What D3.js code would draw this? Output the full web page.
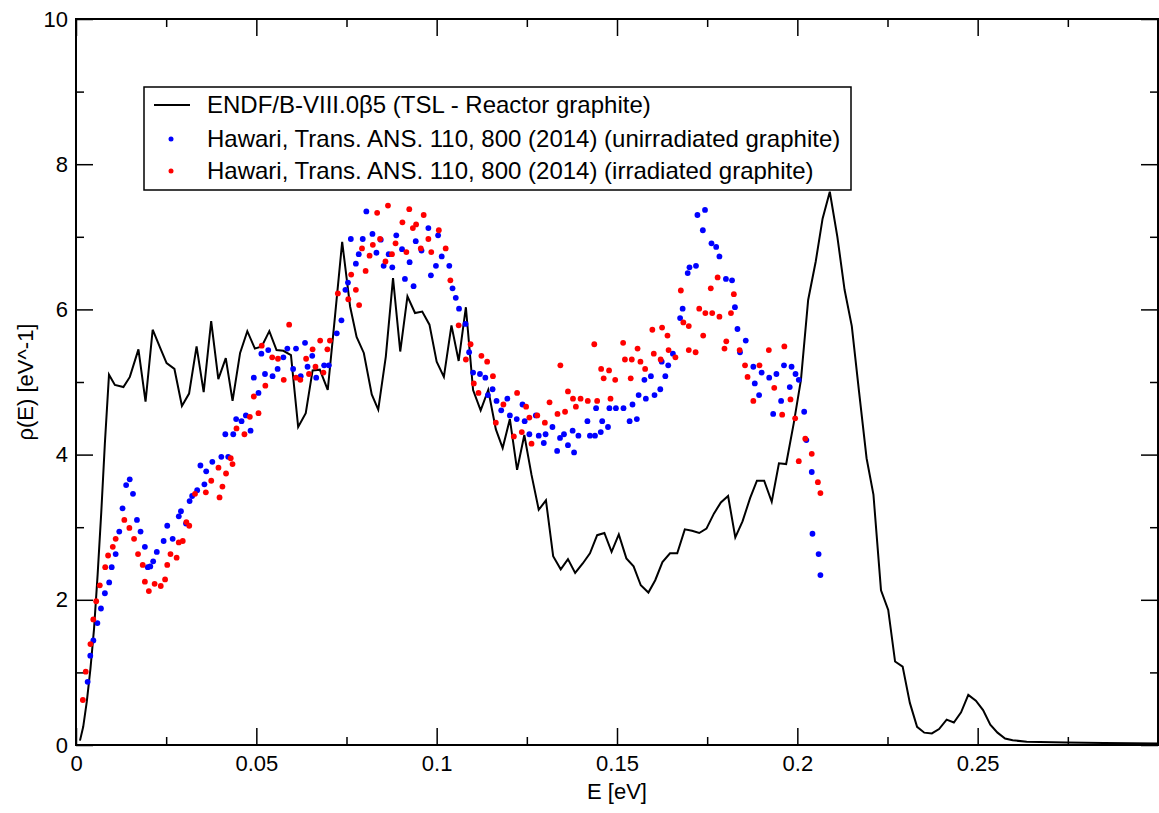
<!DOCTYPE html>
<html>
<head>
<meta charset="utf-8">
<script src="https://cdn.jsdelivr.net/npm/d3@7"></script>
<style>
  html, body { margin: 0; padding: 0; background: #fff; }
  text { font-family: "Liberation Sans", Arial, Helvetica, sans-serif; }
</style>
</head>
<body>
<svg id="chart"></svg>
<script>
// ─── Data: ENDF/B-VIII.0 TSL reactor graphite ────────────────
const lineE = [
  0.0011, 0.002, 0.003, 0.004, 0.005, 0.006, 0.007, 0.008, 0.00915, 0.01078,
  0.01315, 0.01493, 0.01731, 0.01928, 0.02126, 0.02334, 0.02512, 0.02729, 0.02937, 0.03135,
  0.03343, 0.0354, 0.03748, 0.03946, 0.04153, 0.04341, 0.0455, 0.0475, 0.0496, 0.0515,
  0.0536, 0.0556, 0.0575, 0.0596, 0.0616, 0.0637, 0.0656, 0.0676, 0.0698, 0.0718,
  0.0738, 0.0760, 0.0778, 0.0798, 0.0820, 0.0838, 0.0859, 0.0879, 0.0899, 0.0919,
  0.0940, 0.0960, 0.0980, 0.1000, 0.1020, 0.1041, 0.1061, 0.1081, 0.1101, 0.1122,
  0.1143, 0.1164, 0.1183, 0.1203, 0.1223, 0.1243, 0.1263, 0.1283, 0.1303, 0.1323,
  0.1344, 0.1364, 0.1384, 0.1405, 0.1425, 0.1445, 0.1465, 0.1485, 0.1505, 0.1526,
  0.1546, 0.1566, 0.1587, 0.1606, 0.1626, 0.1647, 0.1667, 0.1688, 0.1708, 0.1728,
  0.1748, 0.1769, 0.1788, 0.1808, 0.1828, 0.1848, 0.1869, 0.1888, 0.1908, 0.1929,
  0.1949, 0.1969, 0.1990, 0.2010, 0.2030, 0.2051, 0.2070, 0.2090, 0.2111, 0.2131,
  0.2151, 0.2171, 0.2192, 0.2211, 0.2232, 0.2252, 0.2271, 0.2292, 0.2312, 0.2332,
  0.2352, 0.2373, 0.2393, 0.2414, 0.2434, 0.2454, 0.2474, 0.2495, 0.2515, 0.2535,
  0.2555, 0.2576, 0.2597, 0.2636, 0.2746, 0.2850, 0.3000
];
const lineRho = [
  0.06, 0.25, 0.6, 1.05, 1.6, 2.35, 3.2, 4.15, 5.10, 4.96,
  4.93, 5.07, 5.45, 4.73, 5.72, 5.47, 5.26, 5.18, 4.67, 4.84,
  5.49, 4.86, 5.84, 5.04, 5.33, 4.74, 5.40, 5.70, 5.46, 5.49,
  5.70, 5.44, 5.43, 5.37, 4.38, 4.57, 5.16, 5.17, 4.89, 5.90,
  6.93, 6.04, 5.62, 5.40, 4.83, 4.62, 5.35, 6.43, 5.42, 6.18,
  5.95, 5.97, 5.79, 5.28, 5.07, 5.78, 5.29, 6.03, 4.89, 4.61,
  4.89, 4.35, 4.09, 4.49, 3.79, 4.27, 3.72, 3.24, 3.37, 2.60,
  2.42, 2.56, 2.37, 2.50, 2.64, 2.89, 2.92, 2.66, 2.90, 2.57,
  2.46, 2.20, 2.10, 2.27, 2.52, 2.64, 2.64, 2.97, 2.95, 2.92,
  2.98, 3.19, 3.34, 3.43, 2.86, 3.08, 3.40, 3.64, 3.64, 3.35,
  3.88, 3.87, 4.43, 5.03, 6.13, 6.66, 7.25, 7.62, 7.00, 6.27,
  5.77, 4.87, 3.95, 3.45, 2.13, 1.86, 1.15, 1.08, 0.58, 0.25,
  0.17, 0.16, 0.22, 0.35, 0.31, 0.45, 0.69, 0.61, 0.48, 0.28,
  0.17, 0.09, 0.065, 0.045, 0.035, 0.028, 0.02
];

// ─── Data: Hawari 2014, unirradiated graphite ────────────────
const unirrE = [
  0.00323, 0.00396, 0.00481, 0.00593, 0.00692, 0.00801, 0.0092, 0.0099, 0.0110, 0.0120,
  0.0129, 0.0139, 0.0149, 0.0158, 0.0169, 0.0179, 0.0191, 0.0199, 0.0206, 0.0214,
  0.0224, 0.0243, 0.0253, 0.0268, 0.0285, 0.0291, 0.0305, 0.0315, 0.0322, 0.0336,
  0.0345, 0.0356, 0.0361, 0.0378, 0.0403, 0.0414, 0.0422, 0.0436, 0.0444, 0.0459,
  0.0471, 0.0484, 0.0493, 0.0506, 0.0514, 0.0524, 0.0533, 0.0545, 0.0559, 0.0575,
  0.0586, 0.0602, 0.0610, 0.0623, 0.0635, 0.0642, 0.0655, 0.0666, 0.0688, 0.0701,
  0.0723, 0.0736, 0.0747, 0.0754, 0.0762, 0.0776, 0.0784, 0.0795, 0.0805, 0.0822,
  0.0833, 0.0845, 0.0853, 0.0867, 0.0877, 0.0888, 0.0904, 0.0912, 0.0925, 0.0936,
  0.0942, 0.0958, 0.0977, 0.0984, 0.0998, 0.1004, 0.1014, 0.1035, 0.1044, 0.1053,
  0.1062, 0.1080, 0.1090, 0.1101, 0.1120, 0.1135, 0.1142, 0.1155, 0.1166, 0.1179,
  0.1196, 0.1203, 0.1222, 0.1238, 0.1244, 0.1257, 0.1275, 0.1283, 0.1297, 0.1302,
  0.1321, 0.1334, 0.1342, 0.1353, 0.1364, 0.1377, 0.1381, 0.1393, 0.1418, 0.1425,
  0.1439, 0.1442, 0.1455, 0.1459, 0.1475, 0.1479, 0.1497, 0.1518, 0.1535, 0.1543,
  0.1555, 0.1560, 0.1576, 0.1580, 0.1594, 0.1604, 0.1620, 0.1624, 0.1634, 0.1642,
  0.1655, 0.1675, 0.1682, 0.1696, 0.1701, 0.1719, 0.1723, 0.1738, 0.1744, 0.1762,
  0.1775, 0.1784, 0.1802, 0.1819, 0.1827, 0.1834, 0.1841, 0.1857, 0.1878, 0.1882,
  0.1894, 0.1901, 0.1922, 0.1933, 0.1942, 0.1955, 0.1963, 0.1979, 0.1984, 0.1995,
  0.2004, 0.2019, 0.2025, 0.2040, 0.2042, 0.2059, 0.2064
];
const unirrRho = [
  0.87, 1.23, 1.44, 1.68, 1.88, 2.09, 2.24, 2.45, 2.63, 2.94,
  3.26, 3.58, 3.66, 3.46, 3.10, 2.94, 2.73, 2.45, 2.46, 2.53,
  2.66, 2.81, 3.02, 2.84, 3.15, 3.22, 3.05, 3.36, 3.43, 3.51,
  3.85, 3.59, 3.77, 3.90, 3.97, 4.28, 3.97, 4.28, 4.49, 4.46,
  4.54, 4.33, 5.06, 4.85, 5.39, 5.11, 5.44, 5.08, 5.18, 5.34,
  5.46, 5.18, 5.46, 5.08, 5.54, 5.21, 5.36, 5.06, 5.23, 5.23,
  5.67, 5.85, 6.27, 6.37, 6.97, 6.63, 6.76, 6.97, 7.35, 7.04,
  6.78, 6.96, 6.60, 6.76, 6.58, 7.02, 6.83, 6.42, 6.65, 6.32,
  6.94, 6.81, 7.12, 6.47, 6.60, 7.02, 6.73, 6.60, 6.29, 6.16,
  6.01, 5.80, 5.41, 5.13, 5.11, 5.06, 4.82, 4.90, 4.74, 4.61,
  4.77, 4.54, 4.49, 4.69, 4.46, 4.28, 4.54, 4.26, 4.16, 4.28,
  4.38, 4.05, 4.23, 4.28, 4.13, 4.33, 4.03, 4.26, 4.46, 4.26,
  4.26, 4.64, 4.31, 4.46, 4.38, 4.64, 4.64, 4.64, 4.46, 4.69,
  4.49, 4.82, 5.03, 4.77, 5.08, 4.82, 4.90, 5.28, 5.08, 5.23,
  5.39, 5.88, 6.01, 6.50, 6.58, 6.60, 7.30, 7.09, 7.37, 6.91,
  6.86, 6.73, 6.42, 6.40, 6.03, 5.73, 5.41, 5.57, 5.21, 4.98,
  4.82, 5.13, 5.06, 4.56, 5.11, 4.74, 5.23, 4.93, 5.21, 5.11,
  5.03, 4.59, 4.20, 3.76, 2.91, 2.63, 2.34
];

// ─── Data: Hawari 2014, irradiated graphite ──────────────────
const irrE = [
  0.0019, 0.0027, 0.0040, 0.0048, 0.0056, 0.0066, 0.0081, 0.0089, 0.0102, 0.0110,
  0.0134, 0.0148, 0.0161, 0.0172, 0.0185, 0.0191, 0.0202, 0.0218, 0.0235, 0.0247,
  0.0253, 0.0262, 0.0279, 0.0285, 0.0296, 0.0306, 0.0314, 0.0330, 0.0360, 0.0375,
  0.0395, 0.0398, 0.0406, 0.0416, 0.0429, 0.0434, 0.0445, 0.0467, 0.0482, 0.0493,
  0.0506, 0.0515, 0.0525, 0.0544, 0.0560, 0.0576, 0.0591, 0.0610, 0.0622, 0.0638,
  0.0646, 0.0656, 0.0664, 0.0677, 0.0686, 0.0697, 0.0704, 0.0726, 0.0755, 0.0763,
  0.0776, 0.0785, 0.0793, 0.0803, 0.0814, 0.0823, 0.0835, 0.0843, 0.0858, 0.0865,
  0.0876, 0.0886, 0.0905, 0.0916, 0.0924, 0.0934, 0.0943, 0.0956, 0.0964, 0.0977,
  0.0985, 0.1006, 0.1025, 0.1038, 0.1061, 0.1081, 0.1094, 0.1103, 0.1116, 0.1124,
  0.1140, 0.1156, 0.1164, 0.1185, 0.1214, 0.1223, 0.1236, 0.1248, 0.1257, 0.1263,
  0.1279, 0.1300, 0.1313, 0.1335, 0.1343, 0.1356, 0.1364, 0.1378, 0.1386, 0.1399,
  0.1419, 0.1437, 0.1445, 0.1456, 0.1463, 0.1478, 0.1482, 0.1495, 0.1517, 0.1522,
  0.1538, 0.1541, 0.1557, 0.1565, 0.1578, 0.1598, 0.1602, 0.1621, 0.1625, 0.1640,
  0.1643, 0.1662, 0.1677, 0.1684, 0.1699, 0.1699, 0.1718, 0.1728, 0.1739, 0.1745,
  0.1760, 0.1764, 0.1779, 0.1784, 0.1798, 0.1803, 0.1816, 0.1824, 0.1840, 0.1855,
  0.1862, 0.1878, 0.1895, 0.1921, 0.1936, 0.1958, 0.1964, 0.1981, 0.1994, 0.2004,
  0.2022, 0.2040, 0.2057, 0.2064
];
const irrRho = [
  0.62, 1.01, 1.39, 1.73, 1.98, 2.20, 2.45, 2.61, 2.73, 2.84,
  3.10, 2.99, 2.84, 2.63, 2.48, 2.25, 2.12, 2.22, 2.19, 2.28,
  2.48, 2.63, 2.58, 2.79, 2.81, 3.07, 3.02, 3.46, 3.48, 3.64,
  3.82, 3.41, 3.56, 3.74, 3.95, 3.87, 4.36, 4.28, 4.52, 4.80,
  4.57, 5.50, 4.95, 5.34, 5.32, 5.03, 5.79, 5.06, 5.03, 5.32,
  5.11, 5.45, 5.21, 5.57, 5.13, 5.45, 5.57, 6.22, 6.14, 6.48,
  6.27, 6.06, 6.84, 6.53, 6.74, 6.89, 7.33, 6.97, 6.66, 7.43,
  6.76, 6.91, 7.20, 6.79, 7.38, 7.12, 7.17, 6.84, 7.30, 6.97,
  6.79, 7.09, 6.84, 6.40, 5.78, 5.31, 5.52, 4.98, 4.85, 5.36,
  5.28, 5.08, 4.44, 4.69, 4.25, 4.85, 4.31, 4.66, 4.51, 4.15,
  4.54, 4.44, 4.72, 4.56, 5.23, 4.59, 4.87, 4.77, 4.66, 4.77,
  4.74, 5.52, 4.74, 5.18, 5.05, 5.16, 4.77, 5.03, 5.54, 5.31,
  5.05, 5.31, 5.46, 5.28, 5.18, 5.72, 5.39, 5.31, 5.75, 5.64,
  5.44, 5.34, 6.26, 5.82, 5.77, 5.44, 5.41, 6.01, 5.64, 5.95,
  6.29, 5.95, 6.44, 5.90, 5.46, 5.56, 5.95, 6.21, 5.44, 5.23,
  5.07, 4.74, 5.23, 5.44, 4.92, 4.55, 5.49, 4.76, 4.50, 3.91,
  4.22, 4.01, 3.62, 3.47
];

// ─── Axis ticks and legend labels ────────────────────────────
const xMajorTicks = [0, 0.05, 0.1, 0.15, 0.2, 0.25];
const xMinorTicks = [0.025, 0.075, 0.125, 0.175, 0.225, 0.275];
const yMajorTicks = [0, 2, 4, 6, 8, 10];
const yMinorTicks = [1, 3, 5, 7, 9];
const legendLabels = [
  "ENDF/B-VIII.0\u03b25 (TSL - Reactor graphite)",
  "Hawari, Trans. ANS. 110, 800 (2014) (unirradiated graphite)",
  "Hawari, Trans. ANS. 110, 800 (2014) (irradiated graphite)"
];

const W = 1159, H = 813;
const margin = { top: 19, right: 1, bottom: 68, left: 76 };
const pw = W - margin.left - margin.right;
const ph = H - margin.top - margin.bottom;
const FONT = "22px";
const LEGEND_FONT = "24px";

const svg = d3.select("#chart").attr("width", W).attr("height", H);
svg.append("rect").attr("width", W).attr("height", H).attr("fill", "#fff");

const g = svg.append("g").attr("transform", `translate(${margin.left},${margin.top})`);

const x = d3.scaleLinear().domain([0, 0.3]).range([0, pw]);
const y = d3.scaleLinear().domain([0, 10]).range([ph, 0]);

// ─── Axes (ticks pointing inward on all four sides) ──────────
function styleAxis(sel) {
  sel.select(".domain").remove();
  sel.selectAll(".tick line").attr("stroke", "#000").attr("stroke-width", 1.5);
  sel.selectAll("text").attr("font-size", FONT).attr("fill", "#000")
    .attr("font-family", "'Liberation Sans', Arial, sans-serif");
}

g.append("g").attr("transform", `translate(0,${ph})`)
  .call(d3.axisBottom(x).tickValues(xMajorTicks).tickSizeInner(-17).tickSizeOuter(0)
    .tickPadding(10).tickFormat(d => d === 0 ? "0" : d3.format("~g")(d)))
  .call(styleAxis);
g.append("g").attr("transform", `translate(0,${ph})`)
  .call(d3.axisBottom(x).tickValues(xMinorTicks).tickSizeInner(-8).tickSizeOuter(0).tickFormat(""))
  .call(styleAxis);
g.append("g")
  .call(d3.axisTop(x).tickValues(xMajorTicks).tickSizeInner(-17).tickSizeOuter(0).tickFormat(""))
  .call(styleAxis);
g.append("g")
  .call(d3.axisTop(x).tickValues(xMinorTicks).tickSizeInner(-8).tickSizeOuter(0).tickFormat(""))
  .call(styleAxis);

g.append("g")
  .call(d3.axisLeft(y).tickValues(yMajorTicks).tickSizeInner(-17).tickSizeOuter(0).tickPadding(8))
  .call(styleAxis);
g.append("g")
  .call(d3.axisLeft(y).tickValues(yMinorTicks).tickSizeInner(-8).tickSizeOuter(0).tickFormat(""))
  .call(styleAxis);
g.append("g").attr("transform", `translate(${pw},0)`)
  .call(d3.axisRight(y).tickValues(yMajorTicks).tickSizeInner(-17).tickSizeOuter(0).tickFormat(""))
  .call(styleAxis);
g.append("g").attr("transform", `translate(${pw},0)`)
  .call(d3.axisRight(y).tickValues(yMinorTicks).tickSizeInner(-8).tickSizeOuter(0).tickFormat(""))
  .call(styleAxis);

// Frame
g.append("rect")
  .attr("width", pw).attr("height", ph)
  .attr("fill", "none").attr("stroke", "#000").attr("stroke-width", 2);

// Axis titles
svg.append("text")
  .attr("x", margin.left + pw / 2).attr("y", 799)
  .attr("text-anchor", "middle").attr("font-size", FONT)
  .text("E [eV]");
svg.append("text")
  .attr("transform", `translate(33,${margin.top + ph / 2}) rotate(-90)`)
  .attr("text-anchor", "middle").attr("font-size", FONT)
  .text("\u03c1(E) [eV^-1]");

// ─── Series ──────────────────────────────────────────────────
const lineData = lineE.map((e, i) => [e, lineRho[i]]);
g.append("path")
  .datum(lineData)
  .attr("fill", "none").attr("stroke", "#000").attr("stroke-width", 2)
  .attr("stroke-linejoin", "miter")
  .attr("d", d3.line().x(d => x(d[0])).y(d => y(d[1])));

function drawDots(es, rhos, color) {
  g.append("g").selectAll("circle")
    .data(es.map((e, i) => [e, rhos[i]]))
    .join("circle")
    .attr("cx", d => x(d[0]))
    .attr("cy", d => y(d[1]))
    .attr("r", 2.9)
    .attr("fill", color);
}
drawDots(unirrE, unirrRho, "#0000ff");
drawDots(irrE, irrRho, "#ff0000");

// ─── Legend ──────────────────────────────────────────────────
const lg = svg.append("g");
lg.append("rect")
  .attr("x", 144).attr("y", 87).attr("width", 707).attr("height", 103)
  .attr("fill", "#fff").attr("stroke", "#000").attr("stroke-width", 1.5);

const rowY = [105, 139, 171];
lg.append("line")
  .attr("x1", 154).attr("x2", 190).attr("y1", rowY[0]).attr("y2", rowY[0])
  .attr("stroke", "#000").attr("stroke-width", 2);
lg.append("circle").attr("cx", 171).attr("cy", rowY[1]).attr("r", 2.5).attr("fill", "#0000ff");
lg.append("circle").attr("cx", 171).attr("cy", rowY[2]).attr("r", 2.5).attr("fill", "#ff0000");

lg.selectAll("text.leg")
  .data(legendLabels)
  .join("text")
  .attr("class", "leg")
  .attr("x", 207)
  .attr("y", (d, i) => rowY[i])
  .attr("dy", "0.35em")
  .attr("font-size", LEGEND_FONT)
  .text(d => d);
</script>
</body>
</html>
